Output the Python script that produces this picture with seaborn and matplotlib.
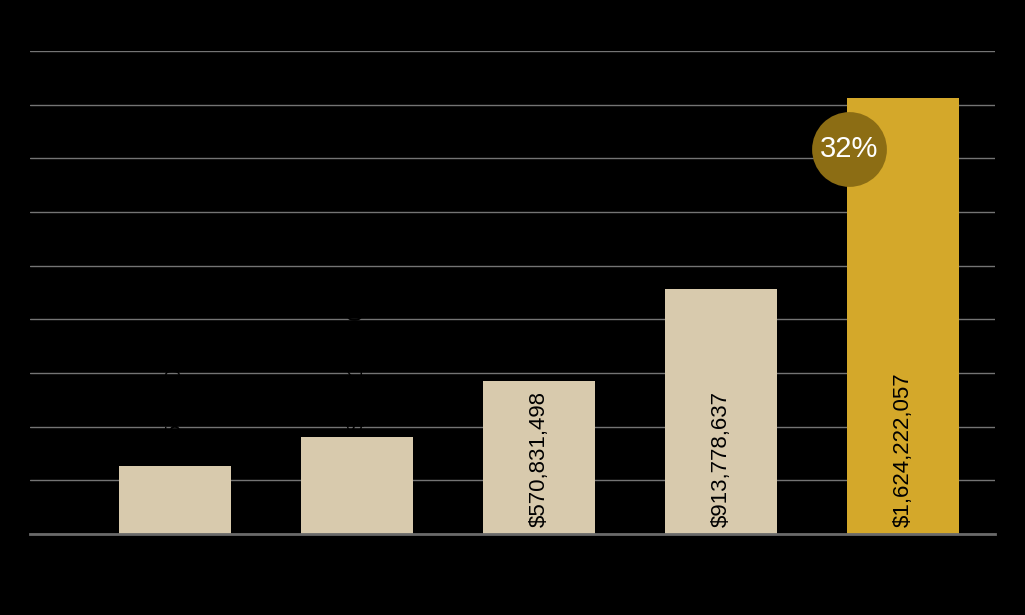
import matplotlib
matplotlib.use('Agg')
import matplotlib.pyplot as plt
import seaborn as sns
import pandas as pd

# data
categories = ['A', 'B', 'C', 'D', 'E']
values = [253_400_000, 362_100_000, 570_831_498, 913_778_637, 1_624_222_057]
bar_colors = ['#D8CAAD', '#D8CAAD', '#D8CAAD', '#D8CAAD', '#D4A82A']
growth_label = '32%'

df = pd.DataFrame({'cat': categories, 'val': values})

sns.set_style('white')
plt.rcParams['font.family'] = ['Liberation Sans', 'DejaVu Sans']

fig = plt.figure(figsize=(10.25, 6.15), dpi=100, facecolor='black')
ax = fig.add_axes([30 / 1025, 81 / 615, 965 / 1025, 483 / 615])
ax.set_facecolor('black')

sns.barplot(data=df, x='cat', y='val', hue='cat', palette=bar_colors,
            width=0.615, legend=False, ax=ax, saturation=1,
            edgecolor='none', linewidth=0)

ax.set_xlim(-0.797, 4.505)
ax.set_ylim(0, 1_800_000_000)
ax.set_yticks(range(0, 1_800_000_001, 200_000_000))
ax.yaxis.grid(True, color='#747474', linewidth=1)
ax.set_axisbelow(True)
for s in ['top', 'right', 'left']:
    ax.spines[s].set_visible(False)
ax.spines['bottom'].set_color('#6a6a6a')
ax.spines['bottom'].set_linewidth(2)
ax.tick_params(axis='both', length=0, labelcolor='black', labelsize=11)
ax.set_xticklabels([])
ax.set_yticklabels([])
ax.set_xlabel('')
ax.set_ylabel('')

# value labels: small bars get label above (black on black), others inside
for i, v in enumerate(values):
    txt = '${:,}'.format(v)
    if i < 2:
        ax.annotate(txt, (i, v), xytext=(0, 4), textcoords='offset points',
                    rotation=90, ha='center', va='bottom', fontsize=16,
                    color='black')
    else:
        ax.annotate(txt, (i, 0), xytext=(0, 5), textcoords='offset points',
                    rotation=90, ha='center', va='bottom', fontsize=16,
                    color='black')

# growth bubble
bx, by = 3.703, 1_436_000_000
ax.scatter([bx], [by], s=2900, color='#8C6D14', zorder=5, linewidths=0)
ax.text(bx, by, growth_label, ha='center', va='center', color='white',
        fontsize=21, zorder=6)

fig.savefig('out.png', dpi=100, facecolor='black')
